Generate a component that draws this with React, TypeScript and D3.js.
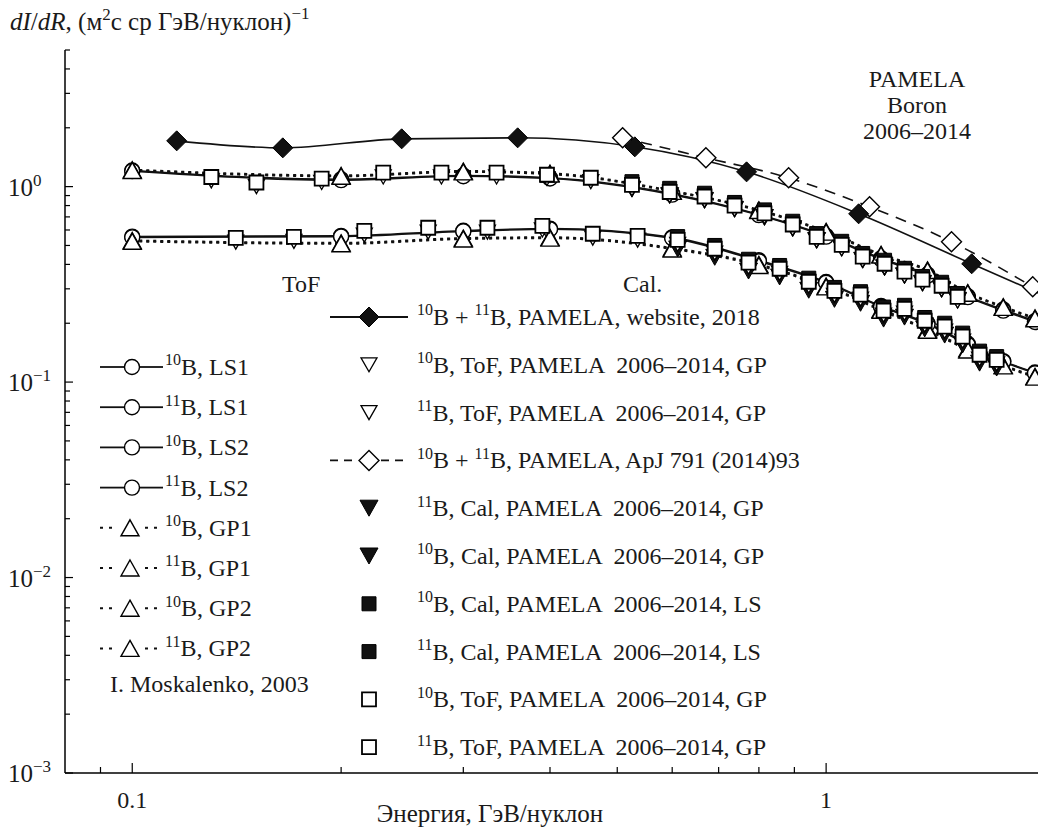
import React from 'react';
import * as d3 from 'd3';

// ---------- data ----------
// model energies (GeV/nucleon) where model markers are drawn
const modelE = [0.1, 0.2, 0.3, 0.4, 0.6, 0.8, 1.0, 1.2, 1.4, 1.6, 1.8, 2.0];
// 11B models (upper group)
const b11LS1 = [1.21, 1.09, 1.14, 1.11, 0.92, 0.72, 0.56, 0.43, 0.355, 0.275, 0.235, 0.205];
const b11LS2 = [1.2, 1.08, 1.13, 1.1, 0.91, 0.715, 0.555, 0.425, 0.35, 0.272, 0.232, 0.203];
const b11GP1 = [1.22, 1.14, 1.2, 1.17, 0.95, 0.76, 0.59, 0.45, 0.375, 0.287, 0.243, 0.213];
const b11GP2 = [1.21, 1.13, 1.19, 1.16, 0.945, 0.755, 0.585, 0.447, 0.372, 0.285, 0.241, 0.211];
// 10B models (lower group)
const b10LS1 = [0.555, 0.56, 0.595, 0.61, 0.55, 0.42, 0.325, 0.245, 0.2, 0.157, 0.128, 0.112];
const b10LS2 = [0.55, 0.555, 0.59, 0.605, 0.545, 0.415, 0.322, 0.243, 0.198, 0.155, 0.127, 0.111];
const b10GP1 = [0.53, 0.515, 0.545, 0.55, 0.485, 0.4, 0.31, 0.236, 0.186, 0.148, 0.122, 0.107];
const b10GP2 = [0.525, 0.51, 0.54, 0.545, 0.48, 0.395, 0.307, 0.233, 0.184, 0.146, 0.121, 0.106];

// PAMELA 11B ToF
const e11ToF = [0.13, 0.151, 0.1875, 0.23, 0.279, 0.335, 0.396, 0.458, 0.525, 0.595, 0.668, 0.738, 0.815, 0.895, 0.969, 1.053, 1.129, 1.214, 1.297, 1.377, 1.467, 1.547];
const b11ToFsq = [1.12, 1.05, 1.1, 1.18, 1.18, 1.18, 1.15, 1.11, 1.02, 0.94, 0.89, 0.8, 0.73, 0.64, 0.553, 0.504, 0.438, 0.403, 0.367, 0.334, 0.311, 0.273];
const b11ToFtri = [1.07, 1.0, 1.05, 1.12, 1.12, 1.12, 1.1, 1.06, 0.975, 0.9, 0.85, 0.765, 0.7, 0.61, 0.53, 0.48, 0.42, 0.385, 0.35, 0.32, 0.297, 0.26];
// PAMELA 11B Cal
const e11Cal = [0.525, 0.595, 0.668, 0.738, 0.815, 0.895, 0.969, 1.053, 1.129, 1.214, 1.297, 1.377, 1.467, 1.547];
const b11CalSq = [1.06, 0.98, 0.925, 0.83, 0.76, 0.665, 0.575, 0.525, 0.455, 0.42, 0.382, 0.347, 0.324, 0.284];
const b11CalTri = [0.97, 0.9, 0.85, 0.765, 0.695, 0.61, 0.53, 0.485, 0.42, 0.385, 0.35, 0.32, 0.298, 0.262];

// PAMELA 10B ToF
const e10ToF = [0.141, 0.171, 0.216, 0.267, 0.325, 0.39, 0.461, 0.535, 0.611, 0.691, 0.773, 0.857, 0.944, 1.028, 1.121, 1.21, 1.297, 1.387, 1.482, 1.573, 1.664, 1.761];
const b10ToFsq = [0.547, 0.553, 0.594, 0.616, 0.616, 0.63, 0.574, 0.56, 0.534, 0.481, 0.408, 0.38, 0.326, 0.293, 0.28, 0.232, 0.237, 0.206, 0.192, 0.171, 0.138, 0.13];
const b10ToFtri = [0.52, 0.525, 0.565, 0.585, 0.585, 0.6, 0.545, 0.532, 0.507, 0.457, 0.388, 0.36, 0.31, 0.278, 0.266, 0.22, 0.225, 0.196, 0.182, 0.162, 0.131, 0.124];
// PAMELA 10B Cal
const e10Cal = [0.611, 0.691, 0.773, 0.857, 0.944, 1.028, 1.121, 1.21, 1.297, 1.387, 1.482, 1.573, 1.664, 1.761];
const b10CalSq = [0.555, 0.5, 0.425, 0.395, 0.34, 0.305, 0.29, 0.242, 0.247, 0.214, 0.2, 0.178, 0.144, 0.135];
const b10CalTri = [0.48, 0.435, 0.37, 0.345, 0.295, 0.265, 0.253, 0.21, 0.215, 0.187, 0.174, 0.155, 0.125, 0.118];

// 10B+11B PAMELA website 2018
const webE = [0.1159, 0.1648, 0.2445, 0.3593, 0.53, 0.768, 1.114, 1.621];
const webF = [1.715, 1.579, 1.756, 1.777, 1.598, 1.19, 0.726, 0.403];
// the published curve continues past the right edge of the axis
const webTailE = [2.35];
const webTailF = [0.226];
// 10B+11B PAMELA ApJ 791 (2014) 93
const apjE = [0.509, 0.671, 0.883, 1.155, 1.516, 1.985];
const apjF = [1.777, 1.404, 1.109, 0.788, 0.522, 0.307];

const xMajor = [0.1, 1];
const xMajorLabels = ['0.1', '1'];
const xMinor = [0.09, 0.2, 0.3, 0.4, 0.5, 0.6, 0.7, 0.8, 0.9];
const yMajor = [1e-3, 1e-2, 1e-1, 1];
const yMajorLabels = ['\u22123', '\u22122', '\u22121', '0'];

const leftLegend = [
  { label: '^{10}B, LS1', kind: 'LS' },
  { label: '^{11}B, LS1', kind: 'LS' },
  { label: '^{10}B, LS2', kind: 'LS' },
  { label: '^{11}B, LS2', kind: 'LS' },
  { label: '^{10}B, GP1', kind: 'GP' },
  { label: '^{11}B, GP1', kind: 'GP' },
  { label: '^{10}B, GP2', kind: 'GP' },
  { label: '^{11}B, GP2', kind: 'GP' },
];
const rightLegend = [
  { label: '^{10}B + ^{11}B, PAMELA, website, 2018', kind: 'web' },
  { label: '^{10}B, ToF, PAMELA  2006\u20132014, GP', kind: 'triOpen' },
  { label: '^{11}B, ToF, PAMELA  2006\u20132014, GP', kind: 'triOpen' },
  { label: '^{10}B + ^{11}B, PAMELA, ApJ 791 (2014)93', kind: 'apj' },
  { label: '^{11}B, Cal, PAMELA  2006\u20132014, GP', kind: 'triFill' },
  { label: '^{10}B, Cal, PAMELA  2006\u20132014, GP', kind: 'triFill' },
  { label: '^{10}B, Cal, PAMELA  2006\u20132014, LS', kind: 'sqFill' },
  { label: '^{11}B, Cal, PAMELA  2006\u20132014, LS', kind: 'sqFill' },
  { label: '^{10}B, ToF, PAMELA  2006\u20132014, GP', kind: 'sqOpen' },
  { label: '^{11}B, ToF, PAMELA  2006\u20132014, GP', kind: 'sqOpen' },
];

// ---------- layout ----------
const W = 1038, H = 828;
const PL = 65, PR = 1038, PT = 50, PB = 773;
const FONT = "'Liberation Serif', 'Times New Roman', serif";

const x = d3.scaleLog().domain([0.08, 2.02]).range([PL, PR]);
const y = d3.scaleLog().domain([1e-3, 5]).range([PB, PT]);

const zip = (xs: number[], ys: number[]) => xs.map((v, i) => [v, ys[i]] as [number, number]);
const line = d3.line<[number, number]>().x(d => x(d[0])).y(d => y(d[1])).curve(d3.curveMonotoneX);

const triUp = (w: number, h: number) => `M0,${-h / 2}L${w / 2},${h / 2}L${-w / 2},${h / 2}Z`;
const triDown = (w: number, h: number) => `M${-w / 2},${-h / 2}L${w / 2},${-h / 2}L0,${h / 2}Z`;
const sq = (s: number) => `M${-s / 2},${-s / 2}h${s}v${s}h${-s}Z`;
const dia = (d: number) => `M0,${-d}L${d},0L0,${d}L${-d},0Z`;

function Sup({ text, x0, y0, size, sup }: { text: string; x0: number; y0: number; size: number; sup: number }) {
  const parts: { s: string; sup: boolean }[] = [];
  const re = /\^\{([^}]*)\}/g;
  let last = 0; let m;
  while ((m = re.exec(text))) {
    if (m.index > last) parts.push({ s: text.slice(last, m.index), sup: false });
    parts.push({ s: m[1], sup: true });
    last = m.index + m[0].length;
  }
  if (last < text.length) parts.push({ s: text.slice(last), sup: false });
  let cur = 0;
  const raise = size * 0.4;
  return (
    <text x={x0} y={y0} fontSize={size} style={{ whiteSpace: 'pre' }}>
      {parts.map((p, i) => {
        const target = p.sup ? -raise : 0;
        const dy = target - cur;
        cur = target;
        return <tspan key={i} dy={dy} fontSize={p.sup ? sup : size}>{p.s}</tspan>;
      })}
    </text>
  );
}

function Marker({ kind, cx, cy }: { kind: string; cx: number; cy: number }) {
  const t = `translate(${cx},${cy})`;
  switch (kind) {
    case 'circle': return <circle cx={cx} cy={cy} r={7.5} fill="#fff" stroke="#000" strokeWidth={1.4} />;
    case 'triUp': return <path transform={t} d={triUp(18, 16)} fill="#fff" stroke="#000" strokeWidth={1.4} />;
    case 'triOpen': return <path transform={t} d={triDown(16, 14)} fill="#fff" stroke="#000" strokeWidth={1.3} />;
    case 'triFill': return <path transform={t} d={triDown(18, 16)} fill="#111" stroke="#000" strokeWidth={1} />;
    case 'sqFill': return <path transform={t} d={sq(14)} fill="#111" stroke="#000" strokeWidth={1} />;
    case 'sqOpen': return <path transform={t} d={sq(14)} fill="#fff" stroke="#000" strokeWidth={1.8} />;
    case 'diaFill': return <path transform={t} d={dia(10)} fill="#111" stroke="#000" strokeWidth={1} />;
    case 'diaOpen': return <path transform={t} d={dia(10)} fill="#fff" stroke="#000" strokeWidth={1.4} />;
  }
  return null;
}

export default function App() {
  const models = [
    { v: b11LS1, dash: null }, { v: b11LS2, dash: null },
    { v: b10LS1, dash: null }, { v: b10LS2, dash: null },
    { v: b11GP1, dash: '3,4' }, { v: b11GP2, dash: '3,4' },
    { v: b10GP1, dash: '3,4' }, { v: b10GP2, dash: '3,4' },
  ];
  const lsSets = [b11LS1, b11LS2, b10LS1, b10LS2];
  const gpSets = [b11GP1, b11GP2, b10GP1, b10GP2];
  const minorY: number[] = [];
  [1e-3, 1e-2, 1e-1, 1].forEach(d => { for (let k = 2; k <= 9; k++) { const v = d * k; if (v <= 5.0001) minorY.push(v); } });

  return (
    <svg width={W} height={H} style={{ display: 'block', position: 'absolute', left: 0, top: 0, background: '#fff' }} fontFamily={FONT} fill="#1a1a1a">
      <defs>
        <clipPath id="plot"><rect x={PL} y={PT - 15} width={PR - PL} height={PB - PT + 15} /></clipPath>
      </defs>
      <rect x={0} y={0} width={W} height={H} fill="#fff" />

      {/* title */}
      <text x={10} y={30} fontSize={25} style={{ whiteSpace: 'pre' }}>
        <tspan fontStyle="italic">dI</tspan>
        <tspan>/</tspan>
        <tspan fontStyle="italic">dR</tspan>
        <tspan>, (м</tspan>
        <tspan dy={-10} fontSize={17}>2</tspan>
        <tspan dy={10}>с ср ГэВ/нуклон)</tspan>
        <tspan dy={-11} fontSize={17}>{'\u22121'}</tspan>
      </text>

      {/* axes */}
      <line x1={PL} y1={PT} x2={PL} y2={PB} stroke="#000" strokeWidth={1.5} />
      <line x1={PL} y1={PB} x2={PR} y2={PB} stroke="#000" strokeWidth={1.5} />
      {yMajor.map(v => <line key={'ym' + v} x1={PL} x2={PL + 8} y1={y(v)} y2={y(v)} stroke="#000" strokeWidth={1.2} />)}
      {minorY.map(v => <line key={'yn' + v} x1={PL} x2={PL + 5} y1={y(v)} y2={y(v)} stroke="#000" strokeWidth={1.2} />)}
      {xMajor.map(v => <line key={'xm' + v} x1={x(v)} x2={x(v)} y1={PB} y2={PB - 10} stroke="#000" strokeWidth={1.2} />)}
      {xMinor.map(v => <line key={'xn' + v} x1={x(v)} x2={x(v)} y1={PB} y2={PB - 6} stroke="#000" strokeWidth={1.2} />)}
      {yMajor.map((v, i) => (
        <text key={'yl' + v} x={8} y={y(v) + 9} fontSize={25}>
          <tspan>10</tspan>
          <tspan dy={-10} fontSize={17}>{yMajorLabels[i]}</tspan>
        </text>
      ))}
      {xMajor.map((v, i) => <text key={'xl' + v} x={x(v)} y={808} fontSize={24} textAnchor="middle">{xMajorLabels[i]}</text>)}
      <text x={490} y={822} fontSize={25} textAnchor="middle">Энергия, ГэВ/нуклон</text>

      {/* plot */}
      <g clipPath="url(#plot)">
        {models.map((m, i) => (
          <path key={'ml' + i} d={line(zip(modelE, m.v)) || ''} fill="none" stroke="#111" strokeWidth={m.dash ? 2.2 : 1.6} strokeDasharray={m.dash || undefined} />
        ))}
        <path d={line(zip(apjE, apjF)) || ''} fill="none" stroke="#111" strokeWidth={1.6} strokeDasharray="11,8" />
        <path d={line(zip([...webE, ...webTailE], [...webF, ...webTailF])) || ''} fill="none" stroke="#111" strokeWidth={1.6} />
        {lsSets.map((s, j) => modelE.map((e, i) => <Marker key={'c' + j + '-' + i} kind="circle" cx={x(e)} cy={y(s[i])} />))}
        {gpSets.map((s, j) => modelE.map((e, i) => <Marker key={'t' + j + '-' + i} kind="triUp" cx={x(e)} cy={y(s[i])} />))}
        {e11Cal.map((e, i) => <Marker key={'a' + i} kind="triFill" cx={x(e)} cy={y(b11CalTri[i])} />)}
        {e10Cal.map((e, i) => <Marker key={'b' + i} kind="triFill" cx={x(e)} cy={y(b10CalTri[i])} />)}
        {e11Cal.map((e, i) => <Marker key={'c2' + i} kind="sqFill" cx={x(e)} cy={y(b11CalSq[i])} />)}
        {e10Cal.map((e, i) => <Marker key={'d' + i} kind="sqFill" cx={x(e)} cy={y(b10CalSq[i])} />)}
        {e11ToF.map((e, i) => <Marker key={'e' + i} kind="triOpen" cx={x(e)} cy={y(b11ToFtri[i])} />)}
        {e10ToF.map((e, i) => <Marker key={'f' + i} kind="triOpen" cx={x(e)} cy={y(b10ToFtri[i])} />)}
        {e11ToF.map((e, i) => <Marker key={'g' + i} kind="sqOpen" cx={x(e)} cy={y(b11ToFsq[i])} />)}
        {e10ToF.map((e, i) => <Marker key={'h' + i} kind="sqOpen" cx={x(e)} cy={y(b10ToFsq[i])} />)}
        {apjE.map((e, i) => <Marker key={'o' + i} kind="diaOpen" cx={x(e)} cy={y(apjF[i])} />)}
        {webE.map((e, i) => <Marker key={'w' + i} kind="diaFill" cx={x(e)} cy={y(webF[i])} />)}
      </g>

      {/* annotations */}
      <g fontSize={24} textAnchor="middle">
        <text x={917} y={87}>PAMELA</text>
        <text x={917} y={113}>Boron</text>
        <text x={917} y={139}>2006–2014</text>
      </g>
      <text x={282} y={292} fontSize={24}>ToF</text>
      <text x={623} y={292} fontSize={24}>Cal.</text>

      {/* left legend */}
      {leftLegend.map((it, i) => {
        const cy = 367 + i * 40.2;
        return (
          <g key={'ll' + i}>
            {it.kind === 'LS' ? (
              <>
                <line x1={100} x2={125} y1={cy} y2={cy} stroke="#111" strokeWidth={1.8} />
                <line x1={140} x2={163} y1={cy} y2={cy} stroke="#111" strokeWidth={1.8} />
                <Marker kind="circle" cx={132} cy={cy} />
              </>
            ) : (
              <>
                <line x1={100} x2={113} y1={cy} y2={cy} stroke="#111" strokeWidth={2} strokeDasharray="3,6" />
                <line x1={145} x2={158} y1={cy} y2={cy} stroke="#111" strokeWidth={2} strokeDasharray="3,6" />
                <Marker kind="triUp" cx={130} cy={cy} />
              </>
            )}
            <Sup text={it.label} x0={165} y0={cy + 8} size={24} sup={16} />
          </g>
        );
      })}
      <text x={110} y={692} fontSize={24}>I. Moskalenko, 2003</text>

      {/* right legend */}
      {rightLegend.map((it, i) => {
        const cy = 317 + i * 47.8;
        return (
          <g key={'rl' + i}>
            {it.kind === 'web' && (
              <>
                <line x1={330} x2={408} y1={cy} y2={cy} stroke="#111" strokeWidth={1.8} />
                <Marker kind="diaFill" cx={369} cy={cy} />
              </>
            )}
            {it.kind === 'apj' && (
              <>
                <line x1={330} x2={358} y1={cy} y2={cy} stroke="#111" strokeWidth={1.6} strokeDasharray="8,6" />
                <line x1={381} x2={408} y1={cy} y2={cy} stroke="#111" strokeWidth={1.6} strokeDasharray="8,6" />
                <Marker kind="diaOpen" cx={369} cy={cy} />
              </>
            )}
            {it.kind !== 'web' && it.kind !== 'apj' && <Marker kind={it.kind} cx={369} cy={cy} />}
            <Sup text={it.label} x0={417} y0={cy + 8} size={24} sup={16} />
          </g>
        );
      })}
    </svg>
  );
}
